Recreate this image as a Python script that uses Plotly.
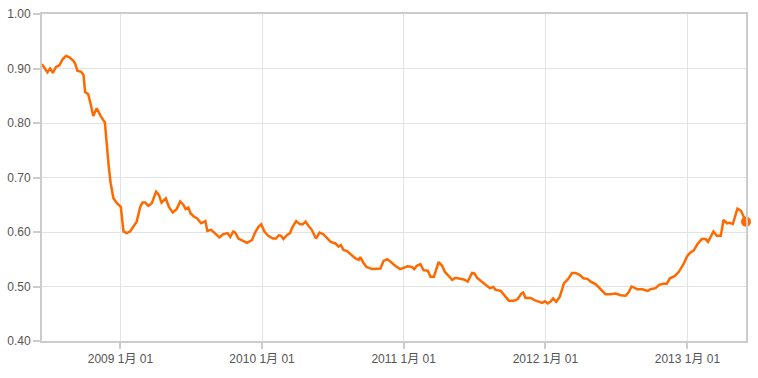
import plotly.graph_objects as go

dates = [
    "2008-06-13", "2008-06-27", "2008-07-04", "2008-07-11", "2008-07-19", "2008-07-28",
    "2008-08-05", "2008-08-14", "2008-08-22", "2008-09-02", "2008-09-07", "2008-09-12",
    "2008-09-22", "2008-09-28", "2008-10-02", "2008-10-10", "2008-10-17", "2008-10-23",
    "2008-11-01", "2008-11-11", "2008-11-22", "2008-11-27", "2008-12-02", "2008-12-07",
    "2008-12-14", "2008-12-23", "2009-01-02", "2009-01-09", "2009-01-17", "2009-01-26",
    "2009-02-03", "2009-02-12", "2009-02-21", "2009-02-27", "2009-03-06", "2009-03-14",
    "2009-03-23", "2009-04-03", "2009-04-10", "2009-04-17", "2009-04-28", "2009-05-06",
    "2009-05-16", "2009-05-26", "2009-06-04", "2009-06-12", "2009-06-18", "2009-06-25",
    "2009-07-01", "2009-07-10", "2009-07-18", "2009-07-28", "2009-08-08", "2009-08-13",
    "2009-08-23", "2009-09-02", "2009-09-13", "2009-09-23", "2009-10-04", "2009-10-11",
    "2009-10-19", "2009-10-24", "2009-11-01", "2009-11-12", "2009-11-23", "2009-12-06",
    "2009-12-14", "2009-12-23", "2009-12-30", "2010-01-07", "2010-01-17", "2010-01-29",
    "2010-02-06", "2010-02-13", "2010-02-19", "2010-02-25", "2010-03-06", "2010-03-14",
    "2010-03-21", "2010-03-30", "2010-04-09", "2010-04-16", "2010-04-23", "2010-05-01",
    "2010-05-09", "2010-05-20", "2010-05-29", "2010-06-08", "2010-06-17", "2010-06-27",
    "2010-07-09", "2010-07-17", "2010-07-23", "2010-07-30", "2010-08-08", "2010-08-18",
    "2010-08-29", "2010-09-07", "2010-09-11", "2010-09-18", "2010-09-27", "2010-10-12",
    "2010-10-23", "2010-11-02", "2010-11-10", "2010-11-20", "2010-11-29", "2010-12-10",
    "2010-12-23", "2011-01-01", "2011-01-11", "2011-01-22", "2011-01-28", "2011-02-04",
    "2011-02-13", "2011-02-21", "2011-03-04", "2011-03-11", "2011-03-20", "2011-04-01",
    "2011-04-10", "2011-04-17", "2011-04-27", "2011-05-06", "2011-05-14", "2011-05-25",
    "2011-06-05", "2011-06-15", "2011-06-26", "2011-07-02", "2011-07-09", "2011-07-19",
    "2011-07-31", "2011-08-11", "2011-08-20", "2011-08-26", "2011-09-08", "2011-09-18",
    "2011-09-29", "2011-10-12", "2011-10-22", "2011-10-31", "2011-11-05", "2011-11-11",
    "2011-11-24", "2011-12-04", "2011-12-15", "2011-12-24", "2011-12-31", "2012-01-07",
    "2012-01-14", "2012-01-21", "2012-01-29", "2012-02-07", "2012-02-18", "2012-02-28",
    "2012-03-10", "2012-03-19", "2012-03-30", "2012-04-08", "2012-04-18", "2012-04-27",
    "2012-05-10", "2012-05-22", "2012-06-04", "2012-06-17", "2012-06-30", "2012-07-13",
    "2012-07-26", "2012-08-03", "2012-08-10", "2012-08-17", "2012-08-25", "2012-09-07",
    "2012-09-15", "2012-09-21", "2012-09-28", "2012-10-11", "2012-10-20", "2012-10-31",
    "2012-11-09", "2012-11-17", "2012-11-29", "2012-12-10", "2012-12-22", "2012-12-31",
    "2013-01-08", "2013-01-17", "2013-01-27", "2013-02-07", "2013-02-17", "2013-02-23",
    "2013-03-02", "2013-03-09", "2013-03-18", "2013-03-28", "2013-04-04", "2013-04-13",
    "2013-04-19", "2013-04-28", "2013-05-10", "2013-05-19", "2013-06-01",
]

values = [
    0.908, 0.893, 0.900, 0.892, 0.903, 0.906,
    0.917, 0.923, 0.921, 0.914, 0.908, 0.896,
    0.894, 0.888, 0.857, 0.853, 0.833, 0.813,
    0.827, 0.813, 0.801, 0.757, 0.720, 0.689,
    0.662, 0.653, 0.646, 0.601, 0.598, 0.601,
    0.610, 0.619, 0.646, 0.654, 0.654, 0.648,
    0.653, 0.674, 0.668, 0.654, 0.662, 0.646,
    0.636, 0.642, 0.656, 0.650, 0.642, 0.645,
    0.634, 0.628, 0.625, 0.616, 0.620, 0.602,
    0.604, 0.598, 0.590, 0.596, 0.598, 0.591,
    0.601, 0.599, 0.588, 0.584, 0.580, 0.585,
    0.599, 0.610, 0.614, 0.601, 0.593, 0.588,
    0.588, 0.594, 0.593, 0.587, 0.594, 0.598,
    0.610, 0.620, 0.614, 0.614, 0.619, 0.611,
    0.604, 0.588, 0.599, 0.596, 0.590, 0.582,
    0.579, 0.573, 0.576, 0.567, 0.565, 0.558,
    0.552, 0.549, 0.554, 0.545, 0.536, 0.532,
    0.533, 0.533, 0.547, 0.550, 0.545, 0.538,
    0.532, 0.535, 0.537, 0.536, 0.532, 0.538,
    0.541, 0.530, 0.529, 0.518, 0.518, 0.545,
    0.538, 0.527, 0.520, 0.512, 0.516, 0.515,
    0.513, 0.509, 0.525, 0.524, 0.516, 0.510,
    0.503, 0.497, 0.499, 0.494, 0.492, 0.484,
    0.474, 0.474, 0.477, 0.487, 0.489, 0.479,
    0.479, 0.475, 0.472, 0.470, 0.473, 0.469,
    0.472, 0.478, 0.472, 0.481, 0.506, 0.513,
    0.525, 0.525, 0.521, 0.515, 0.514, 0.509,
    0.504, 0.495, 0.486, 0.486, 0.487, 0.484,
    0.483, 0.490, 0.500, 0.498, 0.495, 0.495,
    0.494, 0.492, 0.495, 0.497, 0.503, 0.505,
    0.505, 0.515, 0.519, 0.527, 0.541, 0.555,
    0.562, 0.566, 0.578, 0.587, 0.587, 0.582,
    0.591, 0.601, 0.593, 0.593, 0.622, 0.616,
    0.617, 0.615, 0.643, 0.639, 0.619,
]

x_tick_vals = ["2009-01-01", "2010-01-01", "2011-01-01", "2012-01-01", "2013-01-01"]
x_tick_text = ["2009 1月 01", "2010 1月 01", "2011 1月 01", "2012 1月 01", "2013 1月 01"]
y_tick_vals = [0.40, 0.50, 0.60, 0.70, 0.80, 0.90, 1.00]
y_tick_text = ["0.40", "0.50", "0.60", "0.70", "0.80", "0.90", "1.00"]

line_color = "#ff6a00"

fig = go.Figure()
fig.add_trace(go.Scatter(
    x=dates, y=values, mode="lines",
    line=dict(color=line_color, width=2.5),
    hoverinfo="x+y", showlegend=False,
))
fig.add_trace(go.Scatter(
    x=[dates[-1]], y=[values[-1]], mode="markers",
    marker=dict(color=line_color, size=10),
    cliponaxis=False, showlegend=False,
))

font_family = "Liberation Sans, Arial, Noto Sans CJK SC, sans-serif"

fig.update_layout(
    width=758, height=378,
    margin=dict(l=42, r=12, t=14, b=37),
    paper_bgcolor="white", plot_bgcolor="white",
    font=dict(family=font_family, size=12, color="#555555"),
    xaxis=dict(
        range=[dates[0], dates[-1]], automargin=False,
        tickmode="array", tickvals=x_tick_vals, ticktext=x_tick_text,
        showgrid=True, gridcolor="#e3e3e3", gridwidth=1,
        showline=True, linecolor="#cccccc", linewidth=2, mirror=True,
        ticks="outside", ticklen=6, tickcolor="#cccccc", tickwidth=2,
        zeroline=False, tickfont=dict(size=12, color="#555555"),
    ),
    yaxis=dict(
        range=[0.4, 1.0], automargin=False,
        tickmode="array", tickvals=y_tick_vals, ticktext=y_tick_text,
        showgrid=True, gridcolor="#e3e3e3", gridwidth=1,
        showline=True, linecolor="#cccccc", linewidth=2, mirror=True,
        ticks="outside", ticklen=7, tickcolor="#cccccc", tickwidth=2,
        zeroline=False, tickfont=dict(size=12, color="#555555"),
    ),
)

fig.write_html("out.html")
